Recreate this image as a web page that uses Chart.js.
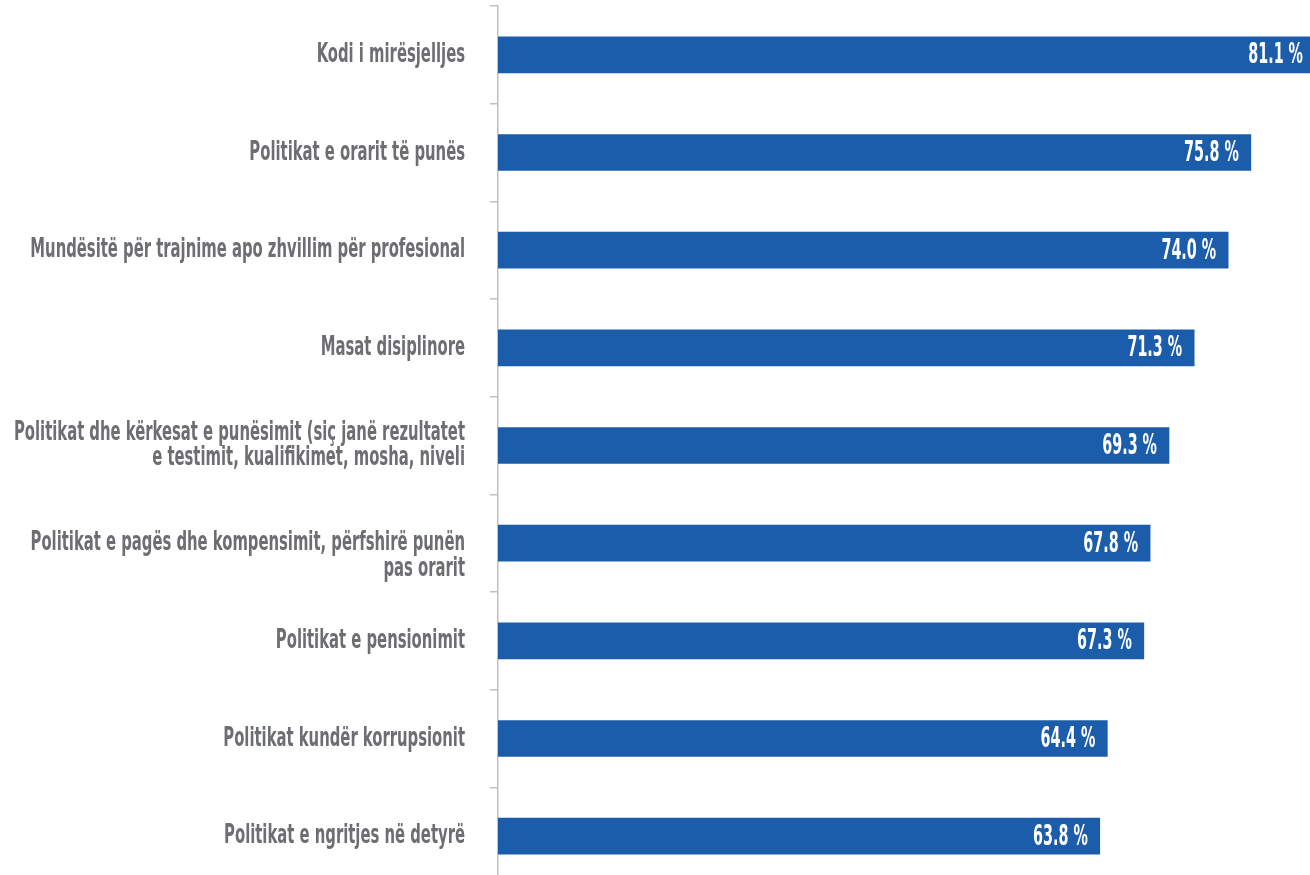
<!DOCTYPE html>
<html>
<head>
<meta charset="utf-8">
<script src="https://cdn.jsdelivr.net/npm/chart.js@4.4.1/dist/chart.umd.min.js"></script>
<style>
    html, body { margin: 0; padding: 0; background: #fff; overflow: hidden; }
    #kutia { position: relative; width: 1310px; height: 885px; }
</style>
</head>
<body>
<div id="kutia"><canvas id="politikatChart"></canvas></div>
<script>
// Politikat e institucionit dhe perqindja perkatese
var kategorite = [
    'Kodi i mirësjelljes',
    'Politikat e orarit të punës',
    'Mundësitë për trajnime apo zhvillim për profesional',
    'Masat disiplinore',
    ['Politikat dhe kërkesat e punësimit (siç janë rezultatet', 'e testimit, kualifikimet, mosha, niveli'],
    ['', 'Politikat e pagës dhe kompensimit, përfshirë punën', 'pas orarit'],
    'Politikat e pensionimit',
    'Politikat kundër korrupsionit',
    'Politikat e ngritjes në detyrë'
];
var perqindjet = [81.1, 75.8, 74.0, 71.3, 69.3, 67.8, 67.3, 64.4, 63.8];

var NGJYRA_SHIRITI = '#1b5daa';
var NGJYRA_TEKSTI = '#6d6e71';
var FONTI = '"Liberation Sans Narrow", "DejaVu Sans Condensed", sans-serif';
var NGJESHJA_KAT = 0.61;
var NGJESHJA_VLERE = 0.55;

// shkruan etiketat e kategorive dhe vlerat brenda shiritave
var etiketatPlugin = {
    id: 'etiketat',
    afterDatasetsDraw: function(chart) {
        var ctx = chart.ctx;
        var sy = chart.scales.y;
        var zona = chart.chartArea;
        var meta = chart.getDatasetMeta(0);

        ctx.save();
        ctx.textAlign = 'right';
        ctx.textBaseline = 'middle';

        ctx.fillStyle = NGJYRA_TEKSTI;
        ctx.font = 'bold 27px ' + FONTI;
        kategorite.forEach(function(k, i) {
            var rreshtat = Array.isArray(k) ? k : [k];
            var qendra = sy.getPixelForValue(i);
            rreshtat.forEach(function(r, j) {
                var yy = qendra + (j - (rreshtat.length - 1) / 2) * 25.5;
                ctx.save();
                ctx.translate(zona.left - 33, yy);
                ctx.scale(NGJESHJA_KAT, 1);
                ctx.fillText(r, 0, 0);
                ctx.restore();
            });
        });

        ctx.fillStyle = '#ffffff';
        ctx.font = 'bold 29px ' + FONTI;
        meta.data.forEach(function(bar, i) {
            var fundi = Math.min(bar.x, zona.right + 5);
            ctx.save();
            ctx.translate(fundi - 12, bar.y + 1);
            ctx.scale(NGJESHJA_VLERE, 1);
            ctx.fillText(perqindjet[i].toFixed(1) + ' %', 0, 0);
            ctx.restore();
        });
        ctx.restore();
    }
};

var ctx = document.getElementById('politikatChart').getContext('2d');
var politikatChart = new Chart(ctx, {
    type: 'bar',
    data: {
        labels: kategorite,
        datasets: [{
            data: perqindjet,
            backgroundColor: NGJYRA_SHIRITI,
            borderWidth: 0,
            barThickness: 36
        }]
    },
    options: {
        indexAxis: 'y',
        responsive: true,
        maintainAspectRatio: false,
        animation: false,
        layout: { padding: { top: 6, right: 0, bottom: 0, left: 0 } },
        plugins: {
            legend: { display: false },
            tooltip: { enabled: false }
        },
        scales: {
            x: {
                display: false,
                min: 16,
                max: 80.5
            },
            y: {
                ticks: { display: false },
                grid: {
                    drawOnChartArea: false,
                    drawTicks: true,
                    tickLength: 8,
                    color: '#c0c0c0',
                    lineWidth: 1.5
                },
                border: { display: true, color: '#c0c0c0', width: 1.5 },
                afterFit: function(scale) { scale.width = 498; }
            }
        }
    },
    plugins: [etiketatPlugin]
});
</script>
</body>
</html>
